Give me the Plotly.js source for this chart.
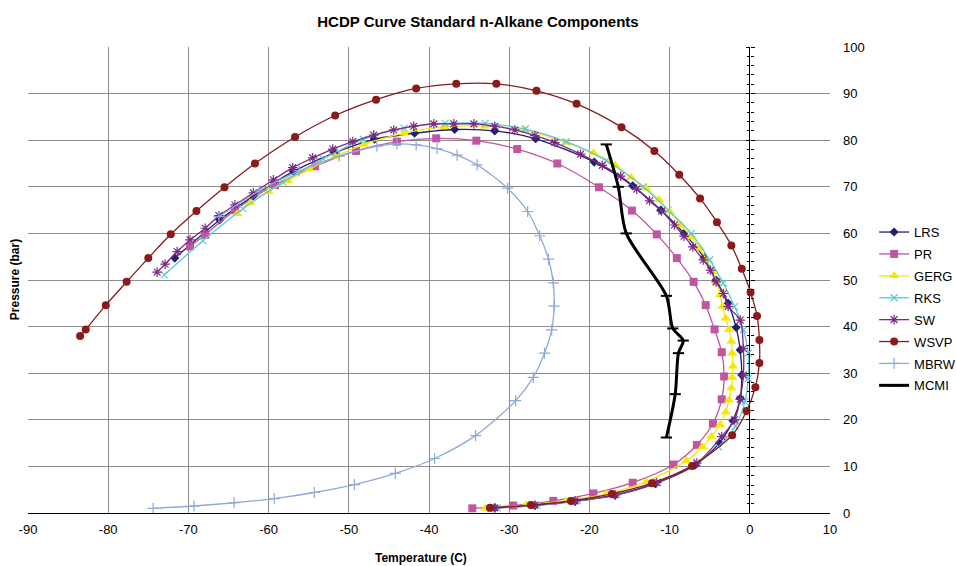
<!DOCTYPE html>
<html>
<head>
<meta charset="utf-8">
<script src="https://cdn.plot.ly/plotly-3.0.1.min.js"></script>
<style>
html,body{margin:0;padding:0;background:#fff;}
#chart{width:956px;height:566px;}
</style>
</head>
<body>
<div id="chart"></div>
<script>
// ---- data (Temperature °C, Pressure bar) ----
const lrsT = [-71.7,-66.1,-61.9,-56.9,-51.8,-46.8,-41.8,-36.8,-31.8,-26.7,-19.4,-14.6,-11.1,-8.2,-5.7,-4.2,-2.7,-1.7,-1.2,-1.0,-1.2,-2.1,-3.8,-6.8,-11.8,-16.8,-21.8,-26.8,-31.8];
const lrsP = [54.7,62.9,68.0,73.3,77.3,80.2,81.5,82.3,82.0,80.3,75.3,70.2,65.0,60.0,54.8,50.0,45.0,39.8,35.0,29.6,24.6,19.8,15.0,10.3,6.3,3.8,2.5,1.6,1.1];

const prT = [-69.8,-67.9,-64.2,-59.2,-54.2,-49.1,-44.0,-39.1,-34.1,-29.0,-24.0,-18.8,-14.7,-11.6,-9.1,-7.0,-5.5,-4.4,-3.5,-3.2,-3.5,-4.6,-6.6,-9.5,-14.6,-19.5,-24.5,-29.5,-34.6];
const prP = [57.2,59.7,65.0,70.4,74.4,77.7,79.7,80.4,79.9,78.1,75.0,69.9,64.9,59.8,54.7,49.6,44.6,39.4,34.5,29.3,24.4,19.2,14.6,10.4,6.5,4.2,2.6,1.6,1.0];

const gergT = [-63.9,-62.3,-60.0,-57.6,-54.9,-51.7,-48.1,-43.1,-38.1,-33.0,-28.1,-22.9,-19.5,-16.8,-14.8,-12.9,-11.3,-10.0,-8.6,-7.3,-6.2,-5.4,-4.6,-4.1,-3.7,-3.4,-3.0,-2.6,-2.3,-2.2,-2.1,-2.2,-2.3,-2.6,-3.0,-3.7,-4.8,-5.9,-7.9,-12.9,-17.9,-22.9,-27.9,-33.0];
const gergP = [64.2,66.5,69.0,71.3,73.8,76.5,79.1,81.5,82.9,83.0,82.2,79.5,77.3,74.7,72.0,69.7,67.2,64.7,61.8,59.3,56.8,54.3,51.8,49.4,46.8,44.3,41.8,39.3,36.8,34.3,31.5,29.1,26.8,24.2,21.7,18.9,16.4,14.2,11.2,6.7,4.1,2.6,1.7,1.0];

const rksT = [-73.0,-68.2,-63.2,-58.2,-53.2,-48.2,-43.1,-38.0,-33.0,-28.0,-22.9,-17.9,-13.3,-10.2,-7.3,-5.0,-3.3,-1.9,-0.8,-0.2,-0.2,-0.6,-1.8,-3.9,-6.6,-11.5,-16.5,-21.5,-26.5,-31.5];
const rksP = [51.1,58.4,65.3,71.0,76.0,80.2,82.6,83.6,83.6,82.4,79.7,75.6,70.0,65.0,60.0,54.3,49.3,44.3,39.3,34.3,28.9,23.9,18.6,14.2,10.8,6.6,4.0,2.6,1.7,1.1];

const swT = [-73.9,-72.9,-71.4,-69.8,-67.9,-66.2,-64.2,-61.9,-59.4,-57.0,-54.5,-52.0,-49.5,-46.9,-44.4,-41.9,-39.4,-36.9,-34.4,-31.8,-29.3,-26.8,-24.3,-21.1,-18.4,-16.1,-14.1,-12.5,-11.0,-9.4,-8.2,-7.1,-5.8,-4.9,-4.2,-3.3,-2.7,-1.2,-0.8,-0.8,-1.2,-1.9,-3.5,-6.6,-11.6,-16.8,-21.8,-26.8,-31.8];
const swP = [51.7,53.4,56.1,58.6,61.1,63.8,66.1,68.7,71.5,74.1,76.2,78.1,79.7,81.1,82.2,83.0,83.5,83.5,83.5,83.0,82.2,81.0,79.5,77.0,74.6,72.3,69.5,67.0,64.8,61.8,59.4,57.1,54.3,52.1,49.6,47.1,44.3,41.4,35.3,29.6,24.4,20.0,16.4,10.7,6.5,3.9,2.6,1.7,1.1];

const wsvpT = [-83.5,-82.8,-80.3,-77.7,-75.0,-72.2,-69.0,-65.5,-61.7,-56.7,-51.7,-46.6,-41.6,-36.6,-31.6,-26.6,-21.6,-16.0,-11.9,-8.8,-6.2,-4.1,-2.3,-1.0,0.1,0.9,1.2,1.2,0.7,-0.4,-2.2,-7.2,-12.2,-17.2,-22.3,-27.3,-32.4];
const wsvpP = [38.0,39.4,44.6,49.6,54.7,59.8,64.8,69.9,75.0,80.7,85.3,88.7,91.1,92.1,92.1,90.6,87.8,82.8,77.7,72.6,67.5,62.4,57.4,52.4,47.3,42.3,37.1,32.2,27.0,21.9,16.7,10.1,6.4,4.1,2.6,1.7,1.1];

const mbrwT = [-66.2,-61.2,-56.2,-51.2,-46.5,-44.0,-41.6,-39.0,-36.5,-34.0,-30.2,-27.7,-26.2,-25.1,-24.5,-24.4,-24.7,-25.6,-27.0,-29.2,-34.2,-39.3,-44.2,-49.3,-54.3,-59.3,-64.3,-69.3,-74.4];
const mbrwP = [63.6,69.1,73.4,76.6,78.7,79.2,79.0,78.2,76.8,74.7,69.7,64.7,59.5,54.5,49.4,44.4,39.3,34.3,29.1,24.1,16.6,11.7,8.5,6.1,4.4,3.1,2.2,1.5,1.0];

const mcmiT = [-17.9,-16.4,-15.4,-10.4,-9.6,-8.3,-8.9,-9.3,-10.4];
const mcmiP = [79.1,70.0,60.0,46.6,39.6,37.0,34.3,25.5,16.2];

const xTicks = [-90,-80,-70,-60,-50,-40,-30,-20,-10,0,10];
const yTicks = [0,10,20,30,40,50,60,70,80,90,100];

const chartTitle = 'HCDP Curve Standard n-Alkane Components';
const xTitle = 'Temperature (C)';
const yTitle = 'Pressure (bar)';

// ---- traces ----
function tr(name, x, y, color, marker, lw){
  return {type:'scatter', mode:'lines+markers', name:name, x:x, y:y, legendgroup:name,
    line:{color:color, width:lw||1.3, shape:'spline', smoothing:0.8},
    marker:marker, cliponaxis:true};
}
const traces = [
  tr('LRS', lrsT, lrsP, '#1f1f70', {symbol:'diamond', size:7, color:'#1f1f70'}),
  tr('PR', prT, prP, '#c1559f', {symbol:'square', size:8, color:'#c1559f'}),
  tr('GERG', gergT, gergP, '#f5e800', {symbol:'triangle-up', size:9, color:'#f5e800'}),
  tr('RKS', rksT, rksP, '#5fc8dc', {symbol:'x-thin', size:7, color:'#5fc8dc', line:{color:'#5fc8dc', width:1.2}}),
  tr('SW', swT, swP, '#7b2a86', {symbol:'asterisk', size:8, color:'#7b2a86', line:{color:'#7b2a86', width:1.2}}),
  tr('WSVP', wsvpT, wsvpP, '#8b1a1a', {symbol:'circle', size:8, color:'#8b1a1a'}),
  tr('MBRW', mbrwT, mbrwP, '#8eaad8', {symbol:'cross-thin', size:8, color:'#8eaad8', line:{color:'#8eaad8', width:1.2}}),
  tr('MCMI', mcmiT, mcmiP, '#000000', {symbol:'line-ew', size:8, color:'#000', line:{color:'#000', width:2}}, 3)
];
// helper invisible traces so the tick marks along the x=0 axis are drawn
const dummy = (ax)=>({type:'scatter', x:[0], y:[0], xaxis:'x', yaxis:ax, mode:'markers',
  marker:{opacity:0}, showlegend:false, hoverinfo:'skip'});
traces.push(dummy('y2'), dummy('y3'));

const font = 'Liberation Sans, Arial, sans-serif';
const gridC = '#8c8c8c';
const layout = {
  width:956, height:566,
  margin:{l:28, r:126, t:47, b:53, autoexpand:false},
  paper_bgcolor:'#fff', plot_bgcolor:'#fff',
  font:{family:font, size:13, color:'#000'},
  title:{text:'<b>'+chartTitle+'</b>', x:0.5, xref:'container', xanchor:'center',
    y:0.97, yref:'container', font:{size:15, family:font}},
  showlegend:true,
  legend:{x:1.055, xanchor:'left', y:0.635, yanchor:'top', font:{size:13, family:font},
    bgcolor:'rgba(0,0,0,0)', borderwidth:0, tracegroupgap:2, itemwidth:30},
  xaxis:{range:[-90,10], tickvals:xTicks, ticktext:xTicks.map(String),
    showgrid:true, gridcolor:gridC, gridwidth:1,
    zeroline:true, zerolinecolor:'#000', zerolinewidth:1.2,
    showline:true, linecolor:'#000', linewidth:1.2, ticks:'', mirror:false,
    tickfont:{size:13}, ticklabelstandoff:4},
  yaxis:{range:[0,100], tickvals:yTicks, ticktext:yTicks.map(String), side:'right',
    showgrid:true, gridcolor:gridC, gridwidth:1, zeroline:false, showline:false,
    ticks:'', tickfont:{size:13}, ticklabelstandoff:12},
  yaxis2:{range:[0,100], overlaying:'y', anchor:'free', position:0.9, side:'left',
    showgrid:false, zeroline:false, showline:false, showticklabels:false,
    ticks:'outside', ticklen:4, tickcolor:'#000', tickwidth:1, dtick:10,
    minor:{ticks:'outside', dtick:2, ticklen:3, tickcolor:'#000', tickwidth:1}},
  yaxis3:{range:[0,100], overlaying:'y', anchor:'free', position:0.9, side:'right',
    showgrid:false, zeroline:false, showline:false, showticklabels:false,
    ticks:'outside', ticklen:4, tickcolor:'#000', tickwidth:1, dtick:10,
    minor:{ticks:'outside', dtick:2, ticklen:3, tickcolor:'#000', tickwidth:1}},
  annotations:[
    {text:'<b>'+yTitle+'</b>', xref:'paper', yref:'paper', x:-0.016, y:0.5,
      xanchor:'center', yanchor:'middle', textangle:-90, showarrow:false,
      font:{size:12, family:font}},
    {text:'<b>'+xTitle+'</b>', xref:'paper', yref:'paper', x:0.49, y:-0.096,
      xanchor:'center', yanchor:'middle', showarrow:false,
      font:{size:12, family:font}}
  ]
};
Plotly.newPlot('chart', traces, layout, {staticPlot:true, displayModeBar:false});
</script>
</body>
</html>
